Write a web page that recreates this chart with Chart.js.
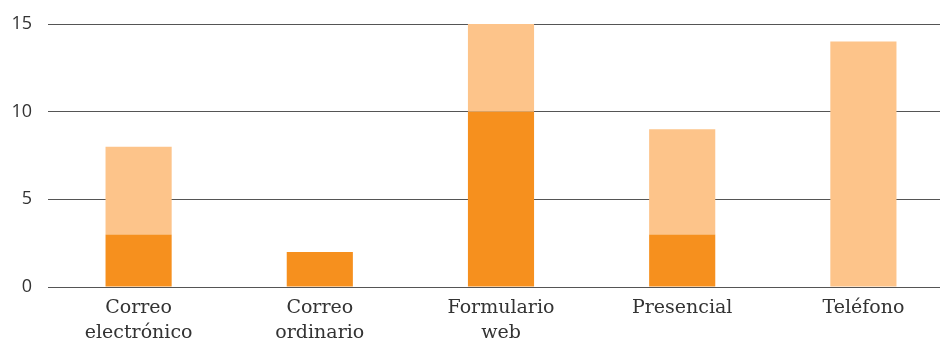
<!DOCTYPE html>
<html>
<head>
<meta charset="utf-8">
<script src="https://cdn.jsdelivr.net/npm/chart.js@4"></script>
<style>
    html, body { margin: 0; padding: 0; background: #fff; overflow: hidden; }
    #wrap { width: 954px; height: 345px; }
</style>
</head>
<body>
<div id="wrap"><canvas id="myChart"></canvas></div>
<script>
    const categories = [["Correo", "electrónico"], ["Correo", "ordinario"], ["Formulario", "web"], "Presencial", "Teléfono"];
    const baseValues = [3, 2, 10, 3, 0];
    const topValues = [5, 0, 5, 6, 14];
    const yTicks = [0, 5, 10, 15];

    const ctx = document.getElementById('myChart');

    new Chart(ctx, {
        type: 'bar',
        data: {
            labels: categories,
            datasets: [
                {
                    label: "Serie 1",
                    data: baseValues,
                    backgroundColor: "#f6901e"
                },
                {
                    label: "Serie 2",
                    data: topValues,
                    backgroundColor: "#fdc48a"
                }
            ]
        },
        options: {
            responsive: true,
            maintainAspectRatio: false,
            animation: false,
            layout: { padding: { top: 24, right: 0, bottom: 0, left: 0 } },
            datasets: {
                bar: { categoryPercentage: 1, barPercentage: 0.365 }
            },
            plugins: {
                legend: { display: false },
                tooltip: { enabled: false }
            },
            scales: {
                x: {
                    stacked: true,
                    grid: { display: false, drawTicks: false },
                    border: { display: false },
                    ticks: {
                        color: "#333",
                        font: { family: "DejaVu Serif", size: 19, lineHeight: 1.3 },
                        padding: 9,
                        maxRotation: 0
                    },
                    afterFit: s => { s.height = 58; s.paddingLeft = 0; s.paddingRight = 0; }
                },
                y: {
                    stacked: true,
                    min: 0,
                    max: 15,
                    afterBuildTicks: s => { s.ticks = yTicks.map(v => ({ value: v })); },
                    grid: { color: "#555", lineWidth: 1, drawTicks: false },
                    border: { display: false },
                    ticks: {
                        color: "#333",
                        font: { family: "Open Sans", size: 18 },
                        padding: 16
                    },
                    afterFit: s => { s.width = 48; s.paddingTop = 0; s.paddingBottom = 0; }
                }
            }
        }
    });
</script>
</body>
</html>
